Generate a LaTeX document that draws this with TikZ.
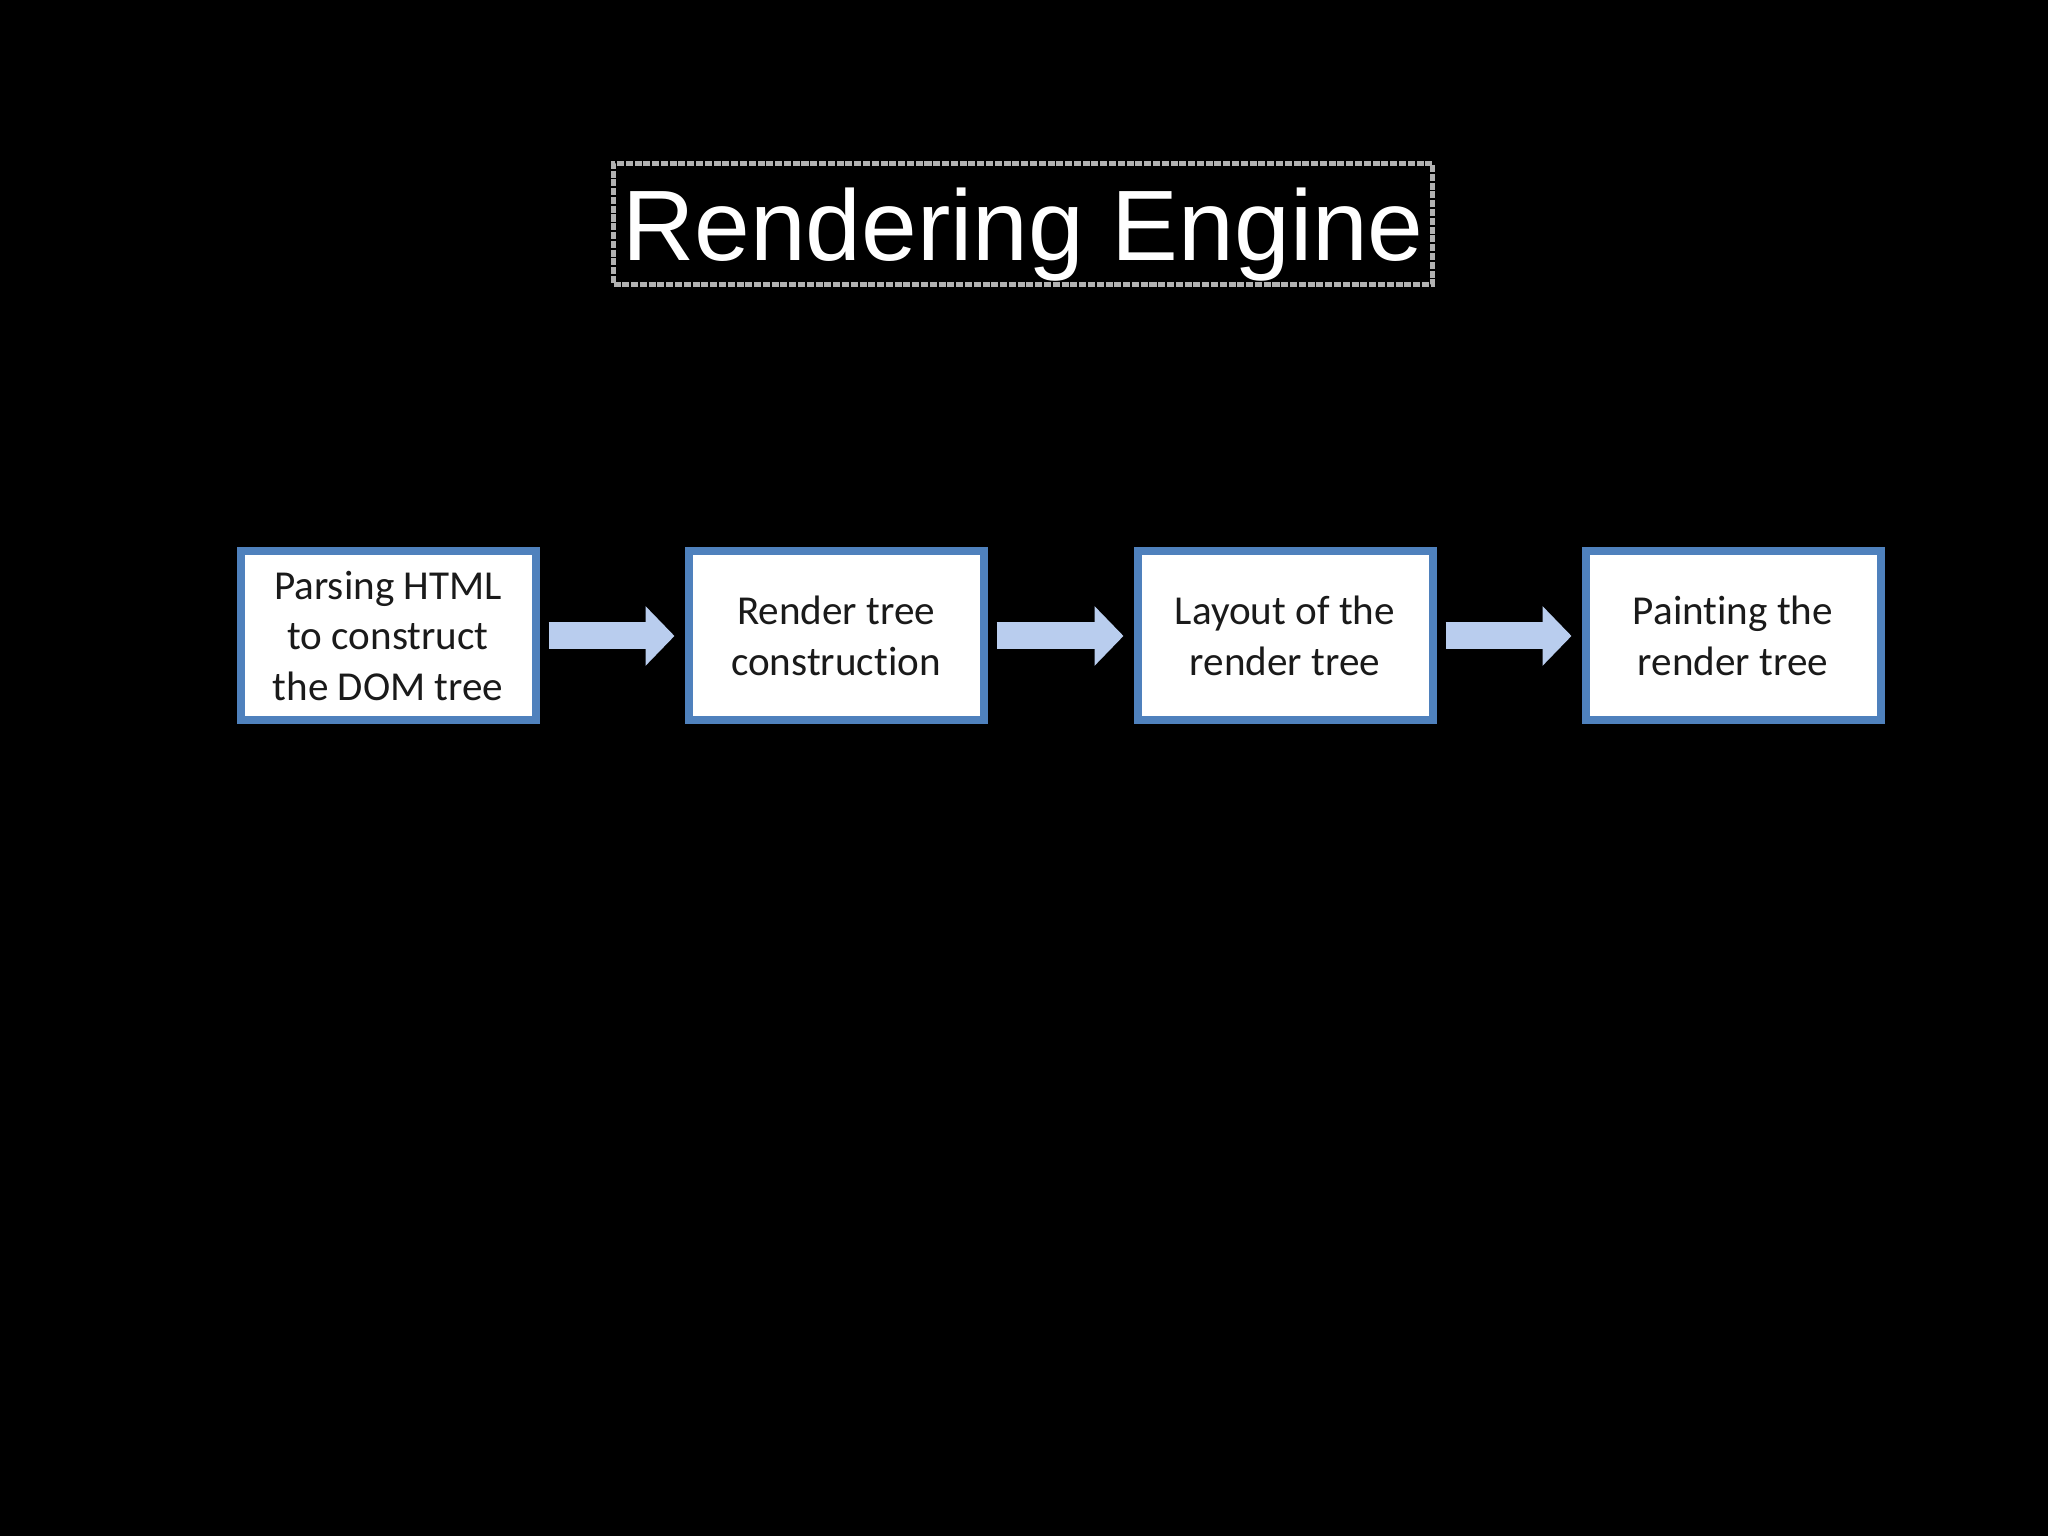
\documentclass[tikz,border=0pt]{standalone}
\usepackage{fontspec}
\setmainfont{Liberation Sans}
\newfontfamily\boxfont[Ligatures=NoCommon]{Carlito}
\usetikzlibrary{arrows.meta}
\definecolor{stageblue}{HTML}{4F81BD}
\definecolor{arrowblue}{HTML}{B9CDEE}
\definecolor{textgray}{HTML}{1A1A1A}
\begin{document}
\begin{tikzpicture}[
  stage/.style={draw=stageblue, line width=0.08cm, fill=white, minimum width=2.95cm, minimum height=1.69cm, inner sep=0pt, align=center, text=textgray, font=\boxfont\fontsize{11.7}{14.3}\selectfont},
  flow/.style={draw=arrowblue, line width=0.27cm, -{Triangle[length=0.29cm,width=0.58cm]}, shorten <=0.09cm, shorten >=0.1cm}]
\fill[black] (0,0) rectangle (20.48,15.36);
\useasboundingbox (0,0) rectangle (20.48,15.36);
\node[draw=gray!60, line width=0.055cm, dash pattern=on 2pt off 0.5pt, minimum width=8.19cm, minimum height=1.21cm, inner sep=0pt, text=white, font=\fontsize{28.5}{34}\selectfont, text height=0.95cm, text depth=0.21cm] (title) at (10.23,13.12){Rendering Engine};
\node[stage] (st0) at (3.88,9){Parsing HTML\\to construct\\the DOM tree};
\node[stage] (st1) at (8.36,9){Render tree\\construction};
\node[stage] (st2) at (12.85,9){Layout of the\\render tree};
\node[stage] (st3) at (17.33,9){Painting the\\render tree};
\draw[flow](st0) -- (st1);
\draw[flow](st1) -- (st2);
\draw[flow](st2) -- (st3);
\end{tikzpicture}
\end{document}
